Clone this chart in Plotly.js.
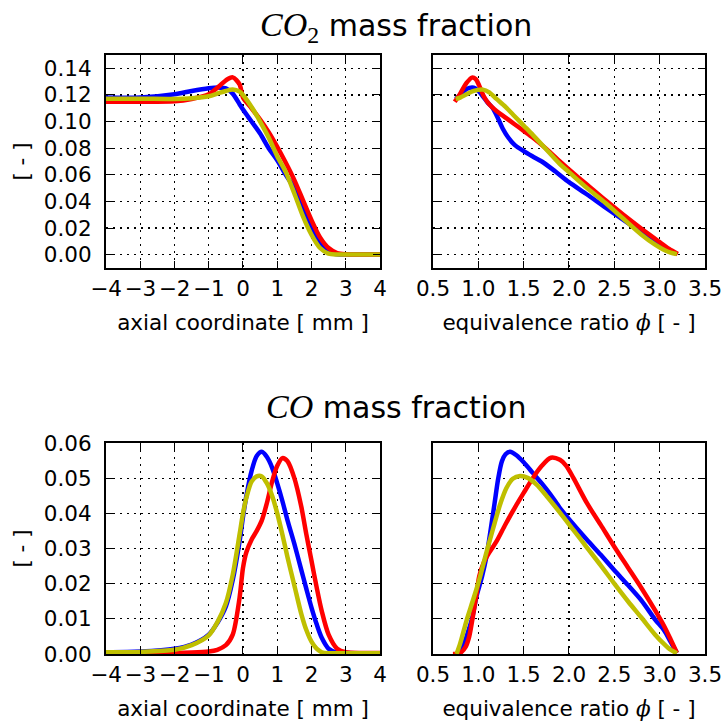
<!DOCTYPE html>
<html>
<head>
<meta charset="utf-8">
<script src="https://cdn.plot.ly/plotly-3.0.1.min.js"></script>
<style>html,body{margin:0;padding:0;background:#fff;}</style>
</head>
<body>
<div id="chart" style="width:723px;height:725px;"></div>
<script>
// ---------- CO2 vs axial coordinate ----------
const axialCO2 = [-4, -3, -2, -1.5, -1, -0.7, -0.5, -0.3, -0.1, 0, 0.25, 0.5, 0.75, 1, 1.25, 1.5, 1.75, 2, 2.25, 2.5, 2.75, 3, 3.5, 4];
const co2BlueAxial   = [0.118, 0.118, 0.1205, 0.123, 0.125, 0.1255, 0.125, 0.121, 0.113, 0.109, 0.100, 0.091, 0.080, 0.071, 0.060, 0.050, 0.034, 0.020, 0.008, 0.002, 0.0004, 0.0002, 0.0002, 0.0002];
const co2RedAxial    = [0.1148, 0.1148, 0.1152, 0.117, 0.1205, 0.1265, 0.131, 0.1332, 0.128, 0.118, 0.110, 0.1015, 0.092, 0.081, 0.069, 0.056, 0.041, 0.026, 0.013, 0.005, 0.0012, 0.0003, 0.0002, 0.0002];
const co2YellowAxial = [0.1172, 0.1172, 0.117, 0.1175, 0.119, 0.1215, 0.123, 0.124, 0.1225, 0.120, 0.111, 0.100, 0.088, 0.074, 0.062, 0.046, 0.029, 0.015, 0.005, 0.0008, 0.0002, 0.0002, 0.0002, 0.0002];

// ---------- CO2 vs equivalence ratio ----------
const phiCO2Blue   = [0.75, 0.8, 0.87, 0.95, 1.0, 1.05, 1.1, 1.16, 1.22, 1.27, 1.33, 1.4, 1.5, 1.6, 1.7, 1.85, 2.0, 2.2, 2.4, 2.6, 2.8, 3.0, 3.1, 3.19];
const co2BluePhi   = [0.117, 0.120, 0.1245, 0.1255, 0.123, 0.119, 0.1145, 0.110, 0.102, 0.0946, 0.088, 0.0825, 0.0778, 0.0738, 0.0700, 0.0625, 0.0545, 0.0452, 0.0355, 0.0262, 0.0168, 0.0078, 0.0035, 0.0005];
const phiCO2Red    = [0.74, 0.8, 0.87, 0.93, 0.97, 1.01, 1.06, 1.12, 1.2, 1.3, 1.4, 1.5, 1.6, 1.75, 1.9, 2.0, 2.2, 2.4, 2.6, 2.8, 3.0, 3.1, 3.2];
const co2RedPhi    = [0.1148, 0.121, 0.129, 0.133, 0.132, 0.127, 0.119, 0.113, 0.108, 0.103, 0.098, 0.093, 0.088, 0.0795, 0.070, 0.064, 0.0525, 0.041, 0.030, 0.0195, 0.0095, 0.0045, 0.0005];
const phiCO2Yellow = [0.75, 0.8, 0.87, 0.95, 1.05, 1.12, 1.2, 1.3, 1.4, 1.5, 1.6, 1.75, 1.9, 2.0, 2.2, 2.4, 2.6, 2.8, 2.95, 3.05, 3.12, 3.19];
const co2YellowPhi = [0.117, 0.118, 0.1205, 0.123, 0.124, 0.122, 0.117, 0.111, 0.104, 0.097, 0.090, 0.079, 0.068, 0.062, 0.050, 0.039, 0.027, 0.015, 0.0075, 0.0035, 0.0015, 0.0004];

// ---------- CO vs axial coordinate ----------
const axialCO = [-4, -3, -2, -1.5, -1, -0.75, -0.5, -0.3, -0.1, 0, 0.1, 0.25, 0.4, 0.55, 0.7, 0.85, 1, 1.15, 1.3, 1.5, 1.7, 1.85, 2, 2.15, 2.3, 2.5, 2.75, 3, 3.5, 4];
const coBlueAxial   = [0.0005, 0.0007, 0.0015, 0.0027, 0.0055, 0.0088, 0.0135, 0.021, 0.032, 0.039, 0.045, 0.052, 0.0563, 0.0575, 0.056, 0.053, 0.0485, 0.0435, 0.038, 0.0313, 0.024, 0.0185, 0.0132, 0.0085, 0.0046, 0.0015, 0.0004, 0.0003, 0.0002, 0.0002];
const coRedAxial    = [0.0005, 0.0004, 0.0003, 0.0004, 0.0007, 0.0012, 0.0025, 0.0055, 0.016, 0.0245, 0.029, 0.0325, 0.035, 0.038, 0.043, 0.049, 0.0535, 0.0557, 0.0548, 0.050, 0.042, 0.034, 0.0265, 0.019, 0.0122, 0.0055, 0.0015, 0.0005, 0.0003, 0.0003];
const coYellowAxial = [0.0005, 0.0006, 0.0012, 0.0025, 0.0053, 0.009, 0.0145, 0.0225, 0.034, 0.040, 0.0445, 0.049, 0.0505, 0.0505, 0.0485, 0.045, 0.040, 0.034, 0.0275, 0.0195, 0.0115, 0.0068, 0.0035, 0.0015, 0.0005, 0.0002, 0.0002, 0.0002, 0.0002, 0.0002];

// ---------- CO vs equivalence ratio ----------
const phiCOBlue   = [0.78, 0.82, 0.87, 0.93, 0.98, 1.04, 1.09, 1.14, 1.18, 1.22, 1.26, 1.3, 1.35, 1.42, 1.5, 1.6, 1.7, 1.8, 1.9, 2.05, 2.2, 2.35, 2.5, 2.65, 2.8, 2.95, 3.05, 3.12, 3.19];
const coBluePhi   = [0, 0.0015, 0.005, 0.010, 0.0164, 0.022, 0.0278, 0.036, 0.043, 0.050, 0.0548, 0.0568, 0.0575, 0.0565, 0.0545, 0.0515, 0.0485, 0.0452, 0.0415, 0.0368, 0.0324, 0.0282, 0.0238, 0.0196, 0.0152, 0.0098, 0.0067, 0.0035, 0.0003];
const phiCORed    = [0.72, 0.8, 0.86, 0.9, 0.94, 0.98, 1.01, 1.06, 1.12, 1.2, 1.3, 1.4, 1.5, 1.6, 1.7, 1.8, 1.9, 1.97, 2.05, 2.2, 2.35, 2.5, 2.65, 2.8, 2.95, 3.05, 3.12, 3.19];
const coRedPhi    = [0, 0.0003, 0.002, 0.005, 0.0107, 0.017, 0.0221, 0.026, 0.0288, 0.032, 0.0369, 0.0415, 0.0458, 0.050, 0.0535, 0.0558, 0.0552, 0.0535, 0.050, 0.0428, 0.0367, 0.0305, 0.0246, 0.0187, 0.0124, 0.0079, 0.0042, 0.0003];
const phiCOYellow = [0.76, 0.8, 0.87, 0.94, 1.01, 1.08, 1.16, 1.24, 1.31, 1.38, 1.46, 1.55, 1.64, 1.75, 1.9, 2.05, 2.2, 2.35, 2.5, 2.65, 2.8, 2.95, 3.05, 3.12, 3.19];
const coYellowPhi = [0, 0.003, 0.0095, 0.0152, 0.0211, 0.028, 0.0354, 0.0425, 0.0472, 0.0498, 0.0506, 0.050, 0.0482, 0.045, 0.0402, 0.0352, 0.0302, 0.0252, 0.0200, 0.0150, 0.0103, 0.0055, 0.0028, 0.0012, 0.0002];

const BLUE = '#0000ff', RED = '#ff0000', YELLOW = '#bfbf00';
const LW = 4.5;

function tr(x, y, color, xa, ya) {
  return {x: x, y: y, type: 'scatter', mode: 'lines', xaxis: xa, yaxis: ya,
          line: {color: color, width: LW, shape: 'spline', smoothing: 0.8},
          showlegend: false, hoverinfo: 'skip'};
}

const data = [
  tr(axialCO2, co2BlueAxial, BLUE, 'x', 'y'),
  tr(axialCO2, co2RedAxial, RED, 'x', 'y'),
  tr(axialCO2, co2YellowAxial, YELLOW, 'x', 'y'),
  tr(phiCO2Blue, co2BluePhi, BLUE, 'x2', 'y2'),
  tr(phiCO2Red, co2RedPhi, RED, 'x2', 'y2'),
  tr(phiCO2Yellow, co2YellowPhi, YELLOW, 'x2', 'y2'),
  tr(axialCO, coBlueAxial, BLUE, 'x3', 'y3'),
  tr(axialCO, coRedAxial, RED, 'x3', 'y3'),
  tr(axialCO, coYellowAxial, YELLOW, 'x3', 'y3'),
  tr(phiCOBlue, coBluePhi, BLUE, 'x4', 'y4'),
  tr(phiCORed, coRedPhi, RED, 'x4', 'y4'),
  tr(phiCOYellow, coYellowPhi, YELLOW, 'x4', 'y4')
];

const FONT = 'DejaVu Sans';
const FS = 21.5;
const common = {
  showline: true, linecolor: 'black', linewidth: 2, mirror: 'allticks',
  ticks: 'inside', ticklen: 7, tickwidth: 1, tickcolor: 'black',
  showgrid: true, gridcolor: 'black', gridwidth: 1.2, griddash: '2px,5px',
  zeroline: false, tickfont: {family: FONT, size: FS, color: 'black'},
  fixedrange: true
};
function ax(extra) { return Object.assign({}, common, extra); }

const xTitleAxial = 'axial coordinate [ mm ]';
const xTitlePhi = 'equivalence ratio <span style="font-family:\'DejaVu Serif\'"><i>ϕ</i></span> [ - ]';
const yTitle = '[ - ]';
const titleFont = {family: FONT, size: FS, color: 'black'};

const xL = [0, 0.4574], xR = [0.5459, 1];
const yT = [0.6444, 1], yB = [0, 0.3523];

const layout = {
  width: 723, height: 725,
  margin: {l: 106, r: 18, t: 55, b: 71},
  paper_bgcolor: 'white', plot_bgcolor: 'white',
  font: {family: FONT, color: 'black'},
  xaxis:  ax({domain: xL, anchor: 'y',  range: [-4, 4], dtick: 1, tick0: 0, ticklabelstandoff: 0,
              title: {text: xTitleAxial, font: titleFont, standoff: 15}}),
  yaxis:  ax({domain: yT, anchor: 'x',  range: [-0.01, 0.15], dtick: 0.02, tick0: 0, tickformat: '.2f', ticklabelstandoff: 8,
              title: {text: yTitle, font: titleFont, standoff: 8}}),
  xaxis2: ax({domain: xR, anchor: 'y2', range: [0.5, 3.5], dtick: 0.5, tick0: 0, tickformat: '.1f', ticklabelstandoff: 0,
              title: {text: xTitlePhi, font: titleFont, standoff: 15}}),
  yaxis2: ax({domain: yT, anchor: 'x2', range: [-0.01, 0.15], dtick: 0.02, tick0: 0, showticklabels: false}),
  xaxis3: ax({domain: xL, anchor: 'y3', range: [-4, 4], dtick: 1, tick0: 0, ticklabelstandoff: 0,
              title: {text: xTitleAxial, font: titleFont, standoff: 15}}),
  yaxis3: ax({domain: yB, anchor: 'x3', range: [0, 0.06], dtick: 0.01, tick0: 0, tickformat: '.2f', ticklabelstandoff: 8,
              title: {text: yTitle, font: titleFont, standoff: 8}}),
  xaxis4: ax({domain: xR, anchor: 'y4', range: [0.5, 3.5], dtick: 0.5, tick0: 0, tickformat: '.1f', ticklabelstandoff: 0,
              title: {text: xTitlePhi, font: titleFont, standoff: 15}}),
  yaxis4: ax({domain: yB, anchor: 'x4', range: [0, 0.06], dtick: 0.01, tick0: 0, showticklabels: false}),
  annotations: [
    {text: '<span style="font-family:\'Liberation Serif\';font-size:34px"><i>CO</i><sub>2</sub></span> mass fraction',
     xref: 'paper', yref: 'paper', x: 0.4841, y: 1.047, xanchor: 'center', yanchor: 'middle',
     showarrow: false, font: {family: FONT, size: 30, color: 'black'}},
    {text: '<span style="font-family:\'Liberation Serif\';font-size:34px"><i>CO</i></span> mass fraction',
     xref: 'paper', yref: 'paper', x: 0.4841, y: 0.413, xanchor: 'center', yanchor: 'middle',
     showarrow: false, font: {family: FONT, size: 30, color: 'black'}}
  ]
};

Plotly.newPlot('chart', data, layout, {staticPlot: true, displayModeBar: false});
</script>
</body>
</html>
